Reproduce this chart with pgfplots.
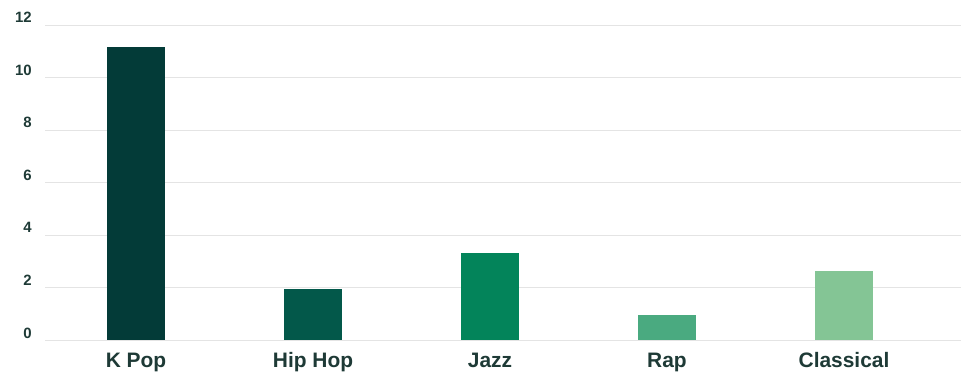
\documentclass[border=0pt]{standalone}
\usepackage{pgfplots}
\pgfplotsset{compat=1.18}
\usepackage{fontspec}
\setmainfont{Liberation Sans}
\definecolor{cA}{HTML}{033B38}
\definecolor{cB}{HTML}{03584A}
\definecolor{cC}{HTML}{03845A}
\definecolor{cD}{HTML}{4AAA80}
\definecolor{cE}{HTML}{84C595}
\definecolor{txt}{HTML}{1E3A36}
\definecolor{gridc}{HTML}{E4E4E4}
\begin{document}
\begin{tikzpicture}
\path[use as bounding box] (0,0) rectangle (961bp,376bp);
\begin{axis}[
  at={(45bp,36bp)}, anchor=south west,
  scale only axis, width=916bp, height=315bp,
  xmin=-0.514, xmax=4.661, ymin=0, ymax=12,
  ytick={0,2,...,12},
  xtick={0,1,2,3,4},
  xticklabels={K Pop, Hip Hop, Jazz, Rap, Classical},
  axis line style={draw=none},
  major tick length=0pt,
  ymajorgrids, grid style={color=gridc, line width=0.9bp},
  /pgf/number format/assume math mode=true,
  yticklabel style={font=\fontsize{15}{15}\selectfont\bfseries, color=txt, anchor=base east, inner sep=0pt, xshift=-13bp, yshift=2bp},
  xticklabel style={font=\fontsize{21}{21}\selectfont\bfseries, color=txt, anchor=base, inner sep=0pt, yshift=-27bp},
  ybar, bar width=58bp, bar shift=0pt,
]
\addplot[fill=cA, draw=none] coordinates {(0,11.17)};
\addplot[fill=cB, draw=none] coordinates {(1,1.96)};
\addplot[fill=cC, draw=none] coordinates {(2,3.31)};
\addplot[fill=cD, draw=none] coordinates {(3,0.95)};
\addplot[fill=cE, draw=none] coordinates {(4,2.63)};
\end{axis}
\end{tikzpicture}
\end{document}
